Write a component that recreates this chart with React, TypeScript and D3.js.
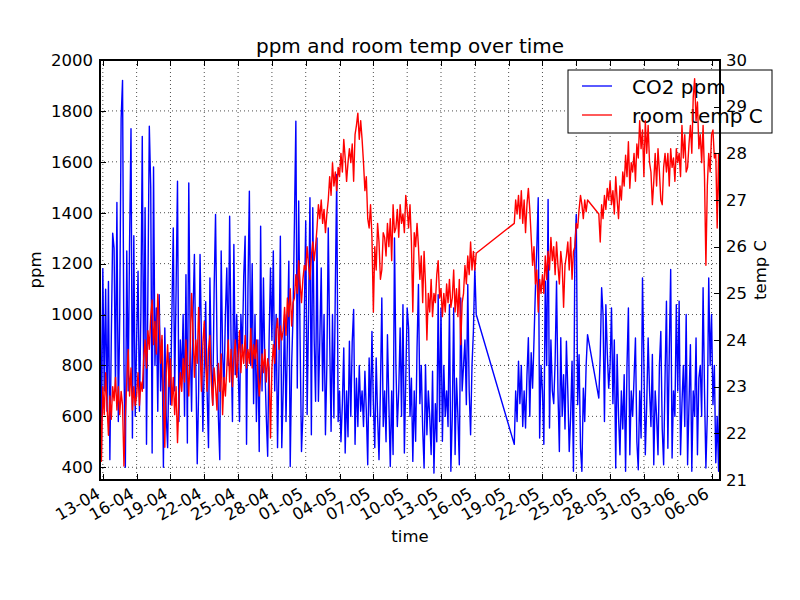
import * as d3 from "d3";
import { useEffect, useRef } from "react";

const WIDTH = 800;
const HEIGHT = 600;
const margin = { top: 60, right: 80, bottom: 120, left: 100 };
const FONT = "DejaVu Sans";

// the sensor logs a reading every 3 hours; it was offline 16-05 -> 19-05 and 26-05 night
const STEP_MS = 3 * 3600 * 1000;
const segmentStarts = [
	new Date(2016, 3, 12, 18),
	new Date(2016, 4, 19, 12),
	new Date(2016, 4, 27, 0),
];

// CO2 ppm, one row per day
const co2A = [
	1250, 450,
	1180, 700, 1100, 620, 1130, 430, 900, 1320,
	1260, 700, 1440, 580, 1000, 1770, 1920, 800,
	400, 1250, 700, 1290, 1730, 515, 1310, 600,
	900, 1170, 620, 1000, 1700, 710, 1420, 490,
	1100, 1740, 1500, 456, 1580, 800, 1026, 620,
	1078, 700, 900, 400, 947, 600, 477, 850,
	646, 1000, 1340, 700, 1100, 1524, 580, 900,
	750, 1000, 600, 1157, 495, 1517, 900, 620,
	1000, 1236, 800, 414, 700, 1236, 900, 541,
	800, 1050, 700, 477, 1144, 800, 646, 1100,
	1393, 900, 600, 430, 1250, 850, 711, 1000,
	1183, 800, 1386, 900, 580, 1275, 764, 1000,
	800, 580, 1000, 850, 1150, 1308, 490, 1100,
	1485, 800, 1200, 650, 1000, 580, 900, 462,
	1347, 700, 1144, 800, 600, 443, 900, 1183,
	900, 1250, 700, 1000, 477, 800, 1308, 477,
	700, 1000, 580, 900, 1210, 403, 800, 1000,
	1367, 1760, 711, 1446, 900, 462, 606, 1000,
	1367, 607, 1000, 1459, 528, 1420, 900, 659,
	1301, 659, 900, 1183, 700, 1000, 528, 800,
	1340, 900, 541, 1000, 594, 1100, 1550, 580,
	700, 500, 650, 869, 456, 700, 520, 895,
	600, 895, 1020, 490, 750, 560, 800, 620,
	700, 560, 777, 620, 410, 829, 600, 934,
	650, 477, 829, 600, 430, 700, 1065, 560,
	700, 500, 921, 650, 403, 700, 450, 1301,
	800, 560, 700, 947, 600, 1039, 456, 750,
	1026, 947, 600, 750, 423, 700, 502, 869,
	1118, 650, 800, 550, 397, 803, 528, 700,
	600, 450, 777, 377, 650, 500, 1078, 580,
	1026, 502, 800, 600, 700, 560, 1039, 384,
	600, 1026, 450, 750, 600, 410, 1065, 700,
	800, 900, 646, 1118, 700, 528, 800, 934,
	1183, 1000,
];
const co2B = [
	490, 700, 580, 817,
	650, 800, 560, 700, 554, 760, 909, 600,
	850, 711, 900, 1100, 1262, 1459, 515, 800,
	700, 490, 1131, 800, 1452, 554, 900, 700,
	650, 817, 1131, 700, 462, 909, 600, 764,
	550, 895, 700, 462, 600, 817, 384, 1250,
	1393, 646, 842, 475, 384, 711, 580, 800,
	921,
];
const co2C = [
	672, 842, 1105, 1000, 580, 1039, 850, 711,
	800, 1026, 650, 900, 397, 843, 600, 449,
	700, 550, 764, 384, 800, 1026, 449, 700,
	600, 750, 908, 500, 390, 700, 515, 1144,
	800, 449, 650, 908, 700, 560, 843, 410,
	700, 600, 449, 800, 934, 550, 410, 750,
	1052, 475, 850, 1177, 436, 700, 600, 1039,
	700, 1052, 449, 650, 800, 560, 1000, 410,
	650, 882, 384, 700, 600, 908, 449, 750,
	800, 600, 1105, 700, 397, 606, 1144, 800,
	1000, 646, 800, 418, 600, 384, 934,
];

// room temperature in C, same timestamps
const tempA = [
	22.9, 21.4,
	23.0, 22.4, 23.3, 22.6, 21.96, 22.8, 22.3, 23.0,
	22.7, 23.2, 22.5, 23.0, 22.4, 22.9, 22.6, 21.3,
	22.4, 23.1, 23.8, 22.8, 23.4, 22.5, 23.0, 22.6,
	22.8, 23.3, 22.6, 23.1, 22.9, 23.6, 24.0, 23.4,
	24.2, 23.8, 24.5, 24.86, 23.9, 24.4, 23.7, 24.98,
	24.4, 23.5, 24.1, 22.8, 21.7, 23.3, 23.9, 23.0,
	23.6, 22.6, 23.2, 22.4, 23.0, 21.8, 22.7, 23.3,
	22.9, 23.6, 23.1, 24.0, 23.4, 22.8, 23.8, 25.0,
	24.2, 23.2, 24.0, 23.5, 24.7, 23.8, 22.9, 23.9,
	24.4, 23.5, 22.9, 23.8, 24.1, 23.1, 22.6, 23.4,
	23.0, 22.5, 23.5, 22.9, 23.7, 22.4, 23.2, 22.8,
	23.4, 24.0, 23.1, 23.8, 23.0, 23.6, 24.0, 23.2,
	23.6, 24.2, 23.3, 23.9, 23.5, 24.1, 23.4, 23.8,
	23.5, 24.25, 23.4, 23.9, 23.6, 24.0, 23.3, 22.8,
	23.2, 23.7, 23.3, 23.8, 23.1, 23.6, 23.4, 21.9,
	23.4, 23.9, 23.5, 24.2, 24.46, 23.8, 24.3, 24.0,
	24.2, 24.7, 24.1, 24.9, 24.5, 25.1, 24.3, 24.8,
	24.9, 25.4, 25.0, 25.7, 25.2, 24.8, 25.3, 25.6,
	25.5, 26.0, 25.6, 25.3, 25.8, 26.1, 25.7, 26.0,
	26.4, 26.9, 26.6, 27.0, 26.5, 26.8, 26.3, 26.7,
	27.0, 27.5, 27.1, 27.8, 27.3, 27.6, 27.2, 27.7,
	27.5, 28.0, 27.6, 28.3, 27.9, 27.4, 27.8, 28.1,
	27.8, 28.2, 27.4, 28.4, 28.6, 28.86, 28.3, 28.7,
	28.3, 27.8, 27.2, 27.5, 26.6, 26.4, 26.9, 26.2,
	24.6, 26.0, 25.5, 26.5, 26.1, 25.3, 25.5, 26.3,
	26.2, 25.8, 26.5, 26.0, 26.6, 25.7, 26.9, 26.3,
	26.4, 26.8, 26.2, 26.9, 26.5, 26.7, 26.3, 27.1,
	26.8, 26.4, 26.9, 26.1, 24.6, 26.3, 26.0, 26.5,
	26.0, 25.3, 25.8, 24.8, 25.9, 25.2, 24.0, 25.0,
	24.6, 25.3, 24.5, 25.0, 24.8, 25.4, 25.7, 24.9,
	25.1, 24.5, 25.0, 24.6, 25.2, 24.8, 25.3, 24.7,
	24.9, 25.5, 24.6, 25.1, 24.5, 25.3, 23.9, 24.8,
	25.0, 25.6, 25.2, 25.8, 25.4, 26.1, 25.5, 25.9,
	25.5, 25.86,
];
const tempB = [
	26.5, 27.0, 26.7, 27.1,
	26.6, 27.2, 26.5, 27.0, 26.3, 26.9, 27.25, 26.8,
	26.2, 25.6, 26.0, 25.2, 25.5, 24.6, 25.3, 25.0,
	25.4, 25.0, 25.8, 25.3, 25.9, 25.5, 26.2, 25.7,
	26.0, 25.4, 26.1, 25.6, 25.2, 25.9, 25.6, 24.7,
	25.6, 25.8, 26.1, 25.5, 26.2, 25.3, 25.9, 26.0,
	26.5, 26.4, 26.8, 27.1, 26.9, 26.6, 27.0, 26.75,
	27.0,
];
const tempC = [
	26.7, 26.1, 26.9, 26.6, 27.1, 26.8, 27.25, 27.0,
	27.4, 26.9, 27.2, 26.7, 27.5, 27.0, 26.6, 27.3,
	27.0, 27.6, 27.3, 27.96, 27.5, 28.25, 27.25, 27.8,
	27.6, 28.0, 27.4, 28.2, 27.9, 28.7, 28.1, 28.5,
	27.5, 28.7, 28.0, 28.6, 27.8, 27.6, 26.9, 27.4,
	28.0, 27.3, 28.1, 27.6, 27.0, 26.9, 27.7, 28.0,
	27.6, 28.0, 27.3, 28.1, 27.7, 27.9, 27.4, 28.1,
	27.8, 28.0, 27.5, 28.6, 27.9, 28.4, 27.6, 27.7,
	28.2, 28.6, 28.0, 29.2, 29.6, 28.7, 29.1, 28.1,
	28.4, 27.8, 28.6, 27.5, 25.6, 27.3, 28.0, 27.6,
	28.4, 28.5, 27.9, 28.0, 26.4, 28.0, 26.5,
];

const xTickLabels = [
	"13-04", "16-04", "19-04", "22-04", "25-04", "28-04", "01-05",
	"04-05", "07-05", "10-05", "13-05", "16-05", "19-05", "22-05",
	"25-05", "28-05", "31-05", "03-06", "06-06",
];
const ppmTicks = [400, 600, 800, 1000, 1200, 1400, 1600, 1800, 2000];
const tempTicks = [21, 22, 23, 24, 25, 26, 27, 28, 29, 30];

const toPoints = (segments) =>
	segments.flatMap((values, s) =>
		values.map((v, i) => ({
			date: new Date(segmentStarts[s].getTime() + i * STEP_MS),
			value: v,
		}))
	);

export default function App() {
	const svgRef = useRef<SVGSVGElement>(null);

	useEffect(() => {
		const width = WIDTH - margin.left - margin.right;
		const height = HEIGHT - margin.top - margin.bottom;
		const co2 = toPoints([co2A, co2B, co2C]);
		const temp = toPoints([tempA, tempB, tempC]);
		const parseTick = d3.timeParse("%d-%m-%Y");
		const tickDates = xTickLabels.map((t) => parseTick(`${t}-2016`));

		const root = d3.select(svgRef.current);
		root.selectAll("*").remove();

		const x = d3
			.scaleTime()
			.domain(d3.extent(co2, (d) => d.date))
			.range([0, width]);
		const yL = d3.scaleLinear().domain([350, 2000]).range([height, 0]);
		const yR = d3.scaleLinear().domain([21, 30]).range([height, 0]);

		root.append("defs")
			.append("clipPath")
			.attr("id", "plot-clip")
			.append("rect")
			.attr("width", width)
			.attr("height", height);

		const svg = root
			.append("g")
			.attr("transform", `translate(${margin.left},${margin.top})`);

		//Grids
		svg.append("g")
			.selectAll("line")
			.data(tickDates)
			.join("line")
			.attr("x1", (d) => x(d))
			.attr("x2", (d) => x(d))
			.attr("y1", 0)
			.attr("y2", height);
		svg.append("g")
			.selectAll("line")
			.data(ppmTicks)
			.join("line")
			.attr("x1", 0)
			.attr("x2", width)
			.attr("y1", (d) => yL(d))
			.attr("y2", (d) => yL(d));
		svg.selectAll("g line")
			.attr("stroke", "#000")
			.attr("stroke-width", 0.7)
			.attr("stroke-dasharray", "1,3");

		// CO2 line
		svg.append("path")
			.datum(co2)
			.attr("clip-path", "url(#plot-clip)")
			.attr("fill", "none")
			.attr("stroke", "#0000ff")
			.attr("stroke-width", 1.4)
			.attr("stroke-linejoin", "round")
			.attr(
				"d",
				d3
					.line()
					.x((d) => x(d.date))
					.y((d) => yL(d.value))
			);

		const styleAxis = (g) => {
			g.select(".domain").remove();
			g.attr("font-family", FONT).attr("font-size", 16.5);
			g.selectAll(".tick line")
				.attr("stroke", "#000")
				.attr("stroke-width", 1)
				.attr("shape-rendering", "crispEdges");
			g.selectAll(".tick text").attr("fill", "#000");
		};

		// Left axis
		svg.append("g")
			.call(
				d3
					.axisLeft(yL)
					.tickValues(ppmTicks)
					.tickFormat(d3.format("d"))
					.tickSizeInner(-6)
					.tickSizeOuter(0)
					.tickPadding(7)
			)
			.call(styleAxis);

		// Bottom + top axis
		svg.append("g")
			.attr("transform", `translate(0,${height})`)
			.call(
				d3
					.axisBottom(x)
					.tickValues(tickDates)
					.tickFormat(d3.timeFormat("%d-%m"))
					.tickSizeInner(-6)
					.tickSizeOuter(0)
			)
			.call(styleAxis)
			.selectAll(".tick text")
			.attr("x", 0)
			.attr("y", 0)
			.attr("dy", null)
			.attr("text-anchor", "end")
			.attr("transform", "translate(-2,17) rotate(-30)");
		svg.append("g")
			.call(
				d3
					.axisTop(x)
					.tickValues(tickDates)
					.tickFormat(() => "")
					.tickSizeInner(-6)
					.tickSizeOuter(0)
			)
			.call(styleAxis);

		// Legend (belongs to the CO2 axes, so the temperature line sits on top)
		const legend = svg
			.append("g")
			.attr("transform", `translate(${568 - margin.left},${70 - margin.top})`);
		legend
			.append("rect")
			.attr("width", 204)
			.attr("height", 63)
			.attr("fill", "#fff")
			.attr("stroke", "#000")
			.attr("stroke-width", 1);
		[
			{ label: "CO2 ppm", color: "#0000ff" },
			{ label: "room temp C", color: "#ff0000" },
		].forEach((item, i) => {
			const yy = 16 + i * 29;
			legend
				.append("line")
				.attr("x1", 14)
				.attr("x2", 44)
				.attr("y1", yy)
				.attr("y2", yy)
				.attr("stroke", item.color)
				.attr("stroke-width", 1.3);
			legend
				.append("text")
				.attr("x", 64)
				.attr("y", yy + 8)
				.attr("font-family", FONT)
				.attr("font-size", 20)
				.attr("fill", "#000")
				.text(item.label);
		});

		// temperature line
		svg.append("path")
			.datum(temp)
			.attr("clip-path", "url(#plot-clip)")
			.attr("fill", "none")
			.attr("stroke", "#ff0000")
			.attr("stroke-width", 1.4)
			.attr("stroke-linejoin", "round")
			.attr(
				"d",
				d3
					.line()
					.x((d) => x(d.date))
					.y((d) => yR(d.value))
			);

		// Right axis
		svg.append("g")
			.attr("transform", `translate(${width},0)`)
			.call(
				d3
					.axisRight(yR)
					.tickValues(tempTicks)
					.tickSizeInner(-6)
					.tickSizeOuter(0)
					.tickPadding(6)
			)
			.call(styleAxis);

		// Frame
		svg.append("rect")
			.attr("width", width)
			.attr("height", height)
			.attr("fill", "none")
			.attr("stroke", "#000")
			.attr("stroke-width", 1.2)
			.attr("shape-rendering", "crispEdges");

		// Labels
		const label = (text, tx, ty, size, rotate = 0) =>
			root
				.append("text")
				.attr("transform", `translate(${tx},${ty}) rotate(${rotate})`)
				.attr("text-anchor", "middle")
				.attr("font-family", FONT)
				.attr("font-size", size)
				.attr("fill", "#000")
				.text(text);
		label("ppm and room temp over time", 410, 53, 20);
		label("time", 410, 542, 16.5);
		label("ppm", 41, 270, 16.5, -90);
		label("temp C", 766, 270, 16.5, -90);
	}, []);

	return (
		<svg
			ref={svgRef}
			width={WIDTH}
			height={HEIGHT}
			style={{ position: "absolute", left: 0, top: 0, background: "#fff" }}
		/>
	);
}
